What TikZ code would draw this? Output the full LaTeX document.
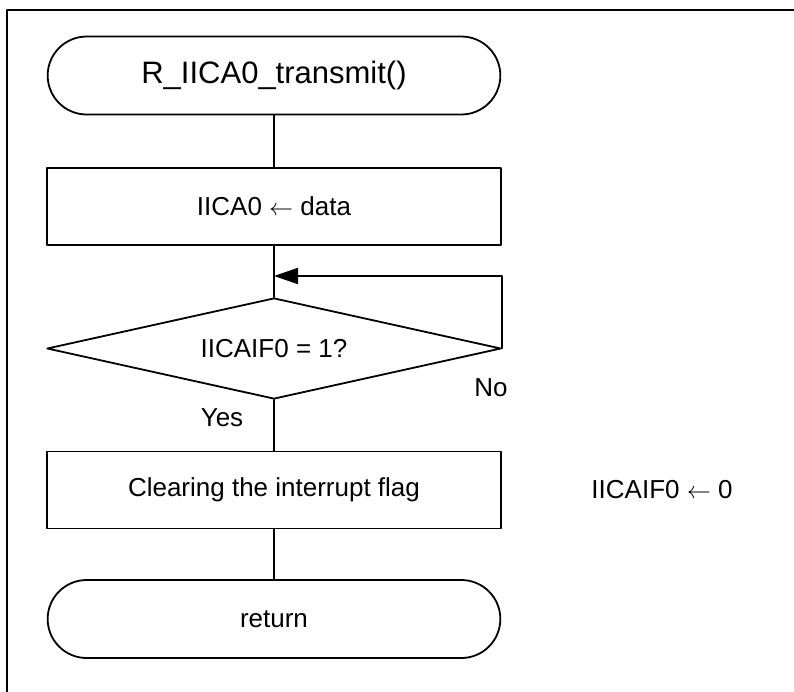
\documentclass[tikz,border=0pt]{standalone}
\usepackage{fontspec}
\setmainfont{Liberation Sans}
\usetikzlibrary{shapes.misc,shapes.geometric,arrows.meta}

\begin{document}
\begin{tikzpicture}[x=0.5pt, y=-0.5pt, line cap=round, line join=round,
    every node/.style={font=\fontsize{13pt}{16pt}\selectfont},
    terminal/.style={draw, line width=0.9pt, rounded rectangle, minimum width=233pt, minimum height=39pt},
    process/.style={draw, line width=0.9pt, rectangle, minimum width=227pt, minimum height=38.5pt},
    decision/.style={draw, line width=0.9pt, diamond, aspect=4.5, inner sep=0pt, minimum width=227pt, minimum height=50.5pt},
    flow/.style={line width=0.9pt}]
      \useasboundingbox (0,0) rectangle (794,692);

      % frame
      \draw[line width=0.9pt] (7,692) -- (7,10) -- (794,10);

      \node[terminal, font=\fontsize{15.5pt}{18pt}\selectfont] (start) at (274,75.5) {R\_IICA0\_transmit()};
      \node[process] (setdata) at (274,206.5) {IICA0 $\leftarrow$ data};
      \node[decision] (chkflag) at (274,348.5) {IICAIF0 = 1?};
      \node[process] (clrflag) at (274,490) {Clearing the interrupt flag};
      \node[terminal] (stop) at (274,619) {return};

      \node (yes) at (222,418) {Yes};
      \node (no) at (491,388) {No};
      \node (note) at (662,490) {IICAIF0 $\leftarrow$ 0};

      \coordinate (join) at (274,276);

      \draw[flow] (start) -- (setdata);
      \draw[flow] (setdata) -- (chkflag);
      \draw[flow, -{Triangle[length=12pt,width=8pt]}] (chkflag.east) |- (join);
      \draw[flow] (chkflag) -- (clrflag);
      \draw[flow] (clrflag) -- (stop);

    \end{tikzpicture}
\end{document}
